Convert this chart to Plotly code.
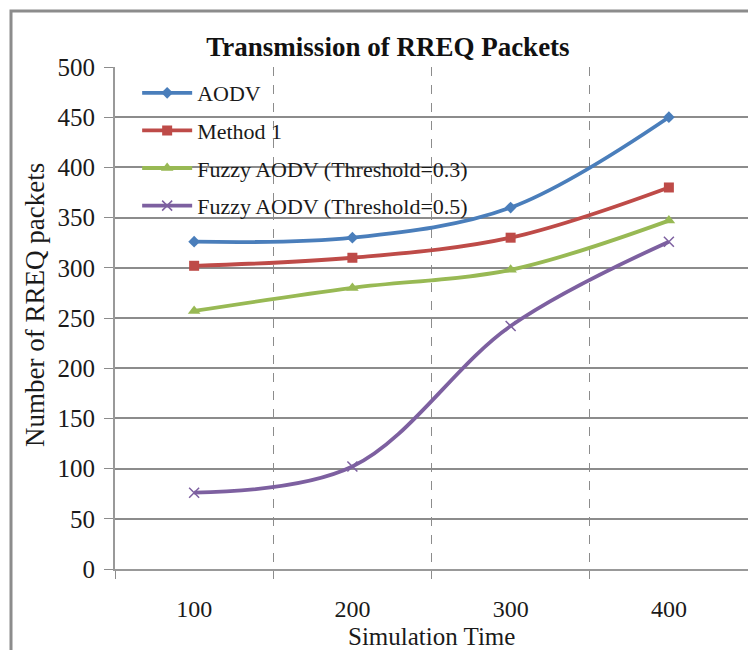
import plotly.graph_objects as go

# Simulation time categories and RREQ packet counts per routing method
sim_time = ["100", "200", "300", "400"]
aodv = [326, 330, 360, 450]
method1 = [302, 310, 330, 380]
fuzzy_03 = [257, 280, 298, 347]
fuzzy_05 = [76, 102, 242, 326]

y_ticks = list(range(0, 501, 50))

series = [
    ("AODV", aodv, "#4A7EBB", "diamond", 9, 0),
    ("Method 1", method1, "#BE4B48", "square", 10, 0),
    ("Fuzzy AODV (Threshold=0.3)", fuzzy_03, "#98B954", "triangle-up", 11, 0),
    ("Fuzzy AODV (Threshold=0.5)", fuzzy_05, "#7D60A0", "x-thin", 10, 1.5),
]

serif = "Liberation Serif, Times New Roman, serif"

fig = go.Figure()
for i, (name, vals, color, sym, size, lw) in enumerate(series):
    fig.add_trace(go.Scatter(
        x=sim_time, y=vals, name=name, mode="lines+markers",
        line=dict(color=color, width=3.8, shape="spline", smoothing=1.0),
        marker=dict(symbol=sym, size=size, color=color,
                    line=dict(color=color, width=lw)),
        legendgroup=f"g{i}",
    ))

grid = "#8C8C8C"

fig.update_layout(
    width=748, height=650,
    margin=dict(l=115, r=0, t=67, b=81),
    paper_bgcolor="white", plot_bgcolor="white",
    font=dict(family=serif, color="#1a1a1a", size=22),
    title=dict(text="<b>Transmission of RREQ Packets</b>",
               x=388 / 748, xanchor="center", y=1 - 47 / 650, yanchor="middle",
               font=dict(family=serif, size=27, color="#111")),
    showlegend=True,
    legend=dict(x=0.035, y=0.99, xanchor="left", yanchor="top",
                bgcolor="rgba(0,0,0,0)", font=dict(family=serif, size=22),
                itemwidth=50, tracegroupgap=6),
    xaxis=dict(
        type="category", range=[-0.5, 3.5],
        tickson="boundaries", ticks="outside", ticklen=8, tickcolor=grid,
        showgrid=True, gridcolor=grid, griddash="dash", gridwidth=1,
        showline=True, linecolor="#999", linewidth=2,
        tickfont=dict(family=serif, size=24), ticklabelstandoff=17,
    ),
    yaxis=dict(
        range=[0, 500], tickvals=y_ticks, ticks="outside", ticklen=9,
        tickcolor=grid, showgrid=True, gridcolor=grid, gridwidth=1.5,
        showline=True, linecolor="#999", linewidth=2, zeroline=False,
        tickfont=dict(family=serif, size=25), ticklabelstandoff=4,
    ),
    annotations=[
        dict(text="Number of RREQ packets", textangle=-90,
             xref="paper", yref="paper", x=(35 - 115) / 633, y=(569 - 305) / 502,
             xanchor="center", yanchor="middle", showarrow=False,
             font=dict(family=serif, size=27)),
        dict(text="Simulation Time", xref="paper", yref="paper",
             x=0.5, y=-(637 - 569) / 502, xanchor="center", yanchor="middle",
             showarrow=False, font=dict(family=serif, size=25)),
    ],
    shapes=[
        dict(type="rect", xref="paper", yref="paper",
             x0=(11 - 115) / 633, x1=1.1, y0=-0.3, y1=1 + (67 - 11) / 502,
             line=dict(color="#8C8C8C", width=3), layer="below"),
    ],
)

fig.write_html("out.html")
